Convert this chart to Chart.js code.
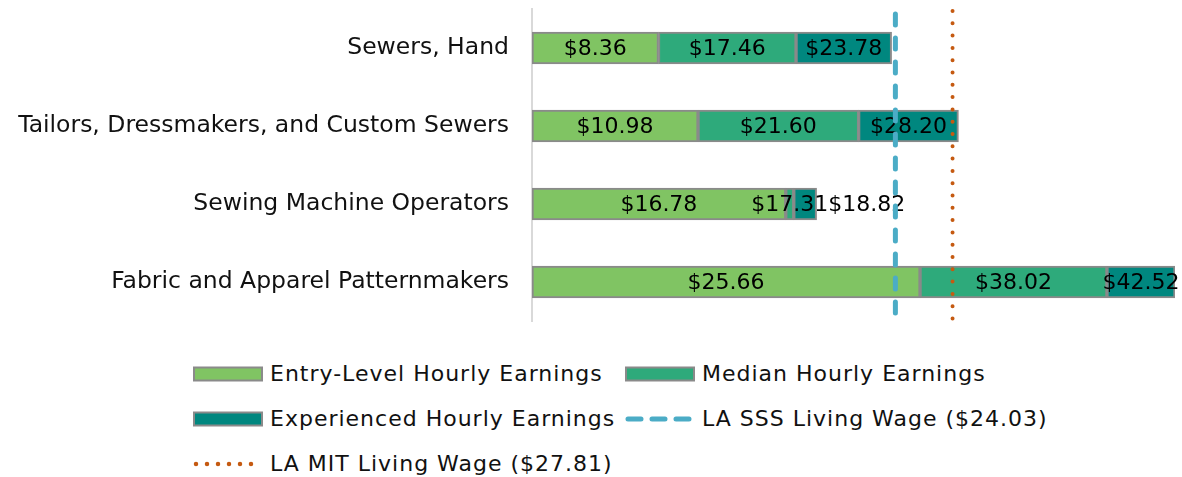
<!DOCTYPE html>
<html>
<head>
<meta charset="utf-8">
<script src="https://cdn.jsdelivr.net/npm/chart.js@4"></script>
<style>
    body { margin: 0; background: #fff; }
    #contenedor { position: relative; width: 1182px; height: 477px; background: #fff; font-family: "DejaVu Sans", sans-serif; }
    #myChart { position: absolute; left: 0; top: 0; }
    #leyenda { position: absolute; left: 193px; top: 351px; display: grid; grid-template-columns: 432px auto; grid-auto-rows: 45px; align-items: center; }
    .item { display: flex; align-items: center; font-size: 22px; letter-spacing: 1px; color: #111; white-space: nowrap; }
    .marca { width: 77px; height: 16px; flex: none; }
</style>
</head>
<body>
<div id="contenedor">
    <canvas id="myChart" width="1182" height="330"></canvas>
    <div id="leyenda"></div>
</div>
<script>
// datos
const categorias = ['Sewers, Hand', 'Tailors, Dressmakers, and Custom Sewers', 'Sewing Machine Operators', 'Fabric and Apparel Patternmakers'];
const entrada = [8.36, 10.98, 16.78, 25.66];
const mediana = [17.46, 21.60, 17.31, 38.02];
const experiencia = [23.78, 28.20, 18.82, 42.52];
const sueldoSSS = 24.03;
const sueldoMIT = 27.81;
const nombresSeries = ['Entry-Level Hourly Earnings', 'Median Hourly Earnings', 'Experienced Hourly Earnings'];
const nombreSSS = 'LA SSS Living Wage ($24.03)';
const nombreMIT = 'LA MIT Living Wage ($27.81)';

const coloresSeries = ['#80C463', '#2EAA7B', '#00877F'];
const colorBorde = '#8A8A8A';
const colorSSS = '#4BACC6';
const colorMIT = '#C55A11';

window.addEventListener('load', () => {
    //Cada tramo va desde el valor anterior hasta el suyo
    var valores = [entrada, mediana, experiencia];
    var datasets = valores.map((serie, s) => ({
        label: nombresSeries[s],
        data: serie.map((v, i) => [s === 0 ? 0 : valores[s - 1][i], v]),
        valores: serie,
        backgroundColor: coloresSeries[s],
        borderColor: colorBorde,
        borderWidth: 2,
        borderSkipped: false,
        barThickness: 32,
        grouped: false
    }));

    //Etiquetas dentro de las barras (se corren a la derecha si se pisan)
    const etiquetas = {
        id: 'etiquetas',
        afterDatasetsDraw(chart) {
            var ctx = chart.ctx;
            ctx.save();
            ctx.font = '22px "DejaVu Sans"';
            ctx.fillStyle = '#000';
            ctx.textAlign = 'left';
            ctx.textBaseline = 'middle';
            categorias.forEach((c, i) => {
                var finAnterior = -Infinity;
                chart.data.datasets.forEach((ds, d) => {
                    var barra = chart.getDatasetMeta(d).data[i];
                    var centro = barra.getCenterPoint();
                    var texto = '$' + ds.valores[i].toFixed(2);
                    var ancho = ctx.measureText(texto).width;
                    var x = Math.max(centro.x - ancho / 2, finAnterior);
                    ctx.fillText(texto, x, centro.y + 1);
                    finAnterior = x + ancho;
                });
            });
            ctx.restore();
        }
    };

    //Lineas verticales de sueldo minimo
    const lineas = {
        id: 'lineas',
        afterDatasetsDraw(chart) {
            var ctx = chart.ctx;
            var area = chart.chartArea;
            var escala = chart.scales.x;
            ctx.save();
            ctx.lineCap = 'round';

            var xs = escala.getPixelForValue(sueldoSSS);
            ctx.strokeStyle = colorSSS;
            ctx.lineWidth = 5;
            ctx.setLineDash([11, 13]);
            ctx.beginPath();
            ctx.moveTo(xs, area.top + 5);
            ctx.lineTo(xs, area.bottom);
            ctx.stroke();

            var xm = escala.getPixelForValue(sueldoMIT);
            ctx.strokeStyle = colorMIT;
            ctx.lineWidth = 4;
            ctx.setLineDash([0, 12.3]);
            ctx.beginPath();
            ctx.moveTo(xm, area.top + 2);
            ctx.lineTo(xm, area.bottom + 5);
            ctx.stroke();
            ctx.restore();
        }
    };

    const config = {
        type: 'bar',
        data: { labels: categorias, datasets: datasets },
        options: {
            indexAxis: 'y',
            responsive: false,
            animation: false,
            layout: { padding: { top: 9, bottom: 9, left: 0, right: 7 } },
            plugins: { legend: { display: false }, tooltip: { enabled: false } },
            scales: {
                x: { display: false, min: 0, max: 42.52 },
                y: {
                    grid: { display: false, drawTicks: false },
                    border: { display: true, color: '#D9D9D9', width: 2 },
                    ticks: { color: '#111', padding: 23, font: { family: 'DejaVu Sans', size: 23.5 } },
                    afterFit: (s) => {
                        s.width = 532;
                        s.paddingTop = 0;
                        s.paddingBottom = 0;
                    }
                }
            }
        },
        plugins: [etiquetas, lineas]
    };

    const myChart = new Chart(document.getElementById('myChart'), config);

    //Leyenda en HTML
    var leyenda = document.querySelector('#leyenda');
    function caja(color) {
        return '<svg class="marca" viewBox="0 0 77 16"><rect x="1" y="1.5" width="68" height="13" fill="' + color + '" stroke="' + colorBorde + '" stroke-width="2"/></svg>';
    }
    function linea(color, ancho, guion) {
        return '<svg class="marca" viewBox="0 0 77 16"><line x1="3" y1="8" x2="65" y2="8" stroke="' + color + '" stroke-width="' + ancho + '" stroke-dasharray="' + guion + '" stroke-linecap="round"/></svg>';
    }
    var entradas = [
        [caja(coloresSeries[0]), nombresSeries[0]],
        [caja(coloresSeries[1]), nombresSeries[1]],
        [caja(coloresSeries[2]), nombresSeries[2]],
        [linea(colorSSS, 5, '13 11'), nombreSSS],
        [linea(colorMIT, 4.5, '0 11'), nombreMIT]
    ];
    entradas.forEach((e) => {
        var div = document.createElement('div');
        div.className = 'item';
        div.innerHTML = e[0] + '<span>' + e[1] + '</span>';
        leyenda.appendChild(div);
    });
});//fin Load
</script>
</body>
</html>
